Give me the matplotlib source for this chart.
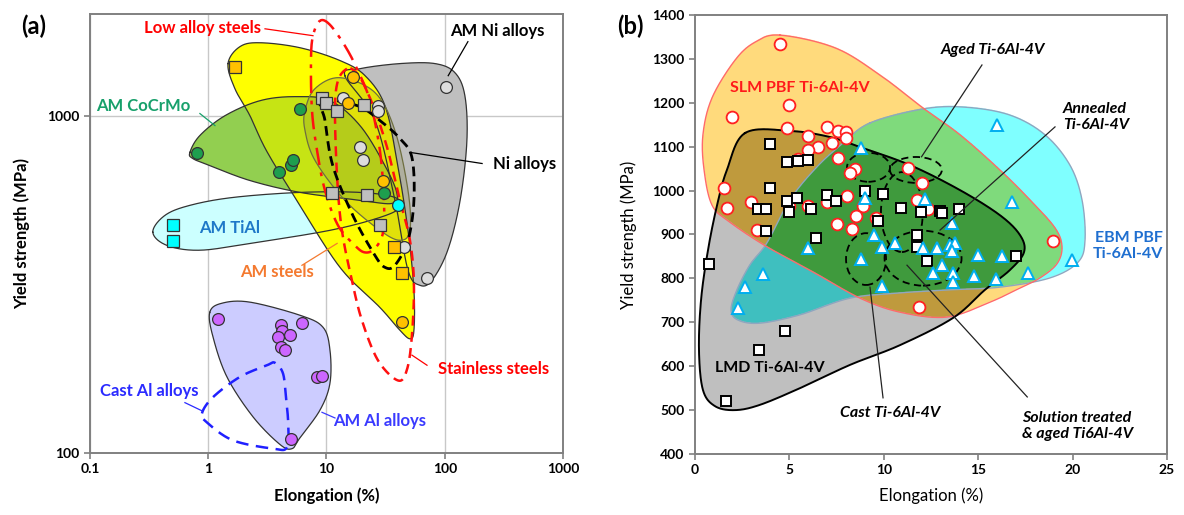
import numpy as np
import matplotlib
matplotlib.use('Agg')
import matplotlib.pyplot as plt
from matplotlib.path import Path
from matplotlib.patches import Ellipse
from matplotlib.ticker import FixedLocator, NullLocator, FixedFormatter

plt.rcParams['font.family'] = ['Lato', 'DejaVu Sans']

# ================= Panel (a) data (elongation %, yield strength MPa) =================
am_steel_sq_x = [1.68, 37.2, 43.5]
am_steel_sq_y = [1396, 407, 341]
am_steel_ci_x = [16.7, 15.2, 30.1, 43.5]
am_steel_ci_y = [1304, 1092, 638, 244]
am_ni_sq_x = [9.16, 9.91, 12.3, 20.7, 11.1, 22.0, 28.3]
am_ni_sq_y = [1130, 1092, 1035, 1078, 588, 580, 473]
am_ni_ci_x = [13.8, 27.3, 27.3, 19.2, 20.4, 45.2, 70.8, 102]
am_ni_ci_y = [1130, 1064, 1035, 809, 736, 407, 329, 1219]
cocrmo_x = [0.80, 3.96, 5.0, 5.21, 5.97, 30.6]
cocrmo_y = [777, 682, 716, 741, 1049, 588]
tial_sq_x = [0.50, 0.50]
tial_sq_y = [473, 424]
tial_ci_x = [40.3]
tial_ci_y = [542]
am_al_x = [1.21, 4.12, 4.20, 3.89, 4.91, 4.12, 4.46, 6.21, 8.31, 9.16, 5.01]
am_al_y = [249, 239, 230, 220, 223, 206, 202, 243, 168, 169, 110]

# envelopes (panel a)
env_steel_x = [1.47, 1.85, 2.74, 5.97, 13.0, 21.2, 31.2, 39.4, 48.9, 54.9, 54.9, 50.8, 41.8, 28.3, 13.0, 5.6, 3.1, 2.25, 1.68]
env_steel_y = [1426, 1600, 1644, 1589, 1456, 1313, 1071, 736, 457, 303, 231, 218, 231, 270, 355, 561, 788, 1000, 1202]
env_ni_x = [14.3, 19.2, 41.8, 82.7, 122, 148, 154, 135, 106, 78, 61.8, 48.9, 37.9, 25.7]
env_ni_y = [1313, 1377, 1426, 1426, 1340, 1146, 843, 561, 399, 325, 314, 348, 561, 967]
env_olive_x = [6.58, 8.0, 13.0, 25.7, 37.9, 48.9, 50.8, 41.8, 28.3, 14.3, 8.0, 6.58]
env_olive_y = [1035, 1202, 1295, 1170, 903, 600, 457, 427, 457, 561, 736, 903]
env_cocr_x = [0.70, 0.85, 1.39, 2.74, 5.42, 10.7, 19.2, 31.2, 39.4, 35.8, 19.2, 5.97, 2.25, 1.03, 0.74]
env_cocr_y = [778, 873, 1000, 1107, 1138, 1107, 934, 711, 588, 549, 561, 592, 642, 711, 746]
env_tial_x = [0.34, 0.43, 0.70, 1.62, 5.97, 19.2, 37.9, 41.8, 28.3, 10.7, 2.25, 0.85, 0.45]
env_tial_y = [451, 506, 542, 572, 592, 592, 572, 534, 499, 457, 418, 399, 412]
env_al_x = [1.03, 1.31, 2.25, 5.97, 9.33, 10.7, 10.7, 8.81, 5.97, 5.11, 4.04, 2.39, 1.44, 1.10]
env_al_y = [261, 278, 280, 256, 236, 202, 161, 134, 111, 103, 106, 128, 168, 220]
env_castal_x = [0.885, 1.10, 1.85, 3.14, 3.67, 4.29, 4.54, 4.74, 4.64, 3.54, 1.62, 0.98]
env_castal_y = [131, 146.5, 168, 182, 185, 172, 146, 123, 104, 103, 109, 123]
env_lowalloy_x = [8.81, 10.7, 14.3, 18.1, 23.3, 28.3, 30.6, 30.1, 25.7, 21.2, 17.4, 12.5, 9.71, 8.32, 7.54, 7.39, 7.69]
env_lowalloy_y = [1910, 1858, 1611, 1377, 1107, 788, 561, 451, 404, 393, 412, 473, 600, 788, 1035, 1456, 1725]
env_stainless_x = [14.9, 12.5, 11.8, 12.3, 13.5, 16.4, 19.95, 27.3, 40.3, 48, 52.8, 54.9, 50.8, 41.8, 33.1, 25.7, 19.95, 17.1]
env_stainless_y = [1377, 1269, 1035, 656, 457, 325, 247, 188, 164, 177, 223, 318, 427, 561, 788, 1035, 1269, 1359]
env_nialloy_x = [9.16, 18.1, 28.3, 41.8, 52.8, 54.9, 48.9, 37.9, 31.2, 25.7, 16.7, 11.3, 9.71]
env_nialloy_y = [1107, 1071, 967, 855, 751, 561, 427, 360, 355, 385, 506, 711, 967]

a_xticks = [0.1, 1, 10, 100, 1000]
a_xlabels = ['0.1', '1', '10', '100', '1000']
a_yticks = [100, 1000]
a_ylabels = ['100', '1000']

# ================= Panel (b) data =================
slm_x = [4.50, 1.96, 4.98, 4.87, 5.99, 6.99, 7.57, 8.0, 8.0, 7.26, 6.51, 5.99, 5.46, 7.57, 8.47, 8.21,
         1.54, 1.69, 2.97, 3.28, 5.99, 4.98, 6.99, 8.05, 8.90, 8.53, 7.52, 8.32, 9.59, 11.28, 12.02,
         11.76, 12.34, 18.96, 11.86]
slm_y = [1334, 1168, 1195, 1143, 1124, 1145, 1136, 1133, 1120, 1108, 1099, 1092, 1072, 1074, 1049, 1040,
         1006, 960, 974, 910, 965, 965, 974, 988, 965, 942, 924, 913, 938, 1051, 1017,
         979, 958, 885, 735]
lmd_x = [3.97, 4.87, 5.46, 5.99, 3.97, 4.87, 5.40, 3.34, 3.76, 4.98, 6.14, 3.76, 6.41, 6.99, 7.47,
         9.00, 9.96, 9.69, 10.91, 11.97, 12.98, 13.08, 13.98, 11.76, 11.76, 12.29, 17.0, 0.74, 4.77,
         3.39, 1.64]
lmd_y = [1106, 1065, 1067, 1070, 1006, 976, 983, 958, 958, 951, 958, 908, 892, 990, 976,
         999, 992, 931, 960, 951, 954, 949, 958, 899, 872, 840, 851, 833, 680,
         637, 521]
ebm_x = [8.79, 9.00, 5.99, 9.48, 9.90, 10.59, 8.79, 9.90, 3.60, 2.65, 2.28, 12.18, 13.61, 12.08, 12.82,
         13.51, 13.77, 13.61, 14.99, 16.26, 13.08, 12.61, 13.67, 13.67, 14.78, 15.94, 17.64, 16.79,
         16.0, 19.97]
ebm_y = [1097, 983, 869, 899, 872, 881, 844, 783, 810, 780, 733, 981, 926, 869, 869,
         876, 881, 862, 853, 851, 831, 812, 812, 792, 805, 799, 812, 974,
         1149, 842]

env_slm_x = [4.50, 7.42, 9.80, 12.08, 14.04, 16.15, 17.74, 19.07, 19.44, 19.17, 18.27, 17.21, 15.63, 13.35,
             10.86, 8.74, 6.36, 3.81, 1.85, 0.90, 0.48, 0.42, 0.90, 2.12, 3.18]
env_slm_y = [1354, 1325, 1263, 1188, 1127, 1047, 979, 915, 872, 833, 801, 778, 746, 712,
             723, 755, 812, 872, 928, 967, 1047, 1127, 1211, 1297, 1338]
env_ebm_x = [9.27, 12.08, 14.30, 16.68, 18.54, 19.86, 20.50, 20.66, 20.29, 18.80, 16.15, 13.51, 10.86,
             8.21, 5.56, 3.44, 2.28, 1.91, 2.22, 2.91, 3.81, 5.03, 6.46, 7.84]
env_ebm_y = [1154, 1186, 1190, 1172, 1127, 1058, 979, 887, 837, 801, 780, 774, 767,
             755, 717, 698, 705, 728, 774, 831, 881, 979, 1054, 1108]
env_lmd_x = [2.65, 5.03, 7.15, 8.74, 11.39, 14.04, 16.15, 17.21, 17.43, 16.68, 15.36, 13.67, 10.86,
             8.21, 5.56, 3.44, 2.12, 1.06, 0.42, 0.21, 0.32, 0.69, 1.17, 1.69]
env_lmd_y = [1131, 1136, 1122, 1099, 1058, 1001, 944, 899, 860, 819, 774, 710, 648,
             603, 550, 512, 500, 509, 546, 637, 751, 865, 967, 1047]

# treatment groups (center x, center y, width, height)
groups = {
    'g1': (9.19, 1053, 2.28, 66),
    'aged': (11.7, 1047, 2.75, 59),
    'annealed': (10.96, 951, 2.22, 182),
    'cast': (9.06, 844, 2.12, 118),
    'sta': (12.08, 846, 4.08, 125),
}


def catmull(xs, ys, logx=False, logy=False, n=30):
    x = np.log10(xs) if logx else np.asarray(xs, float)
    y = np.log10(ys) if logy else np.asarray(ys, float)
    P = np.column_stack([x, y])
    N = len(P)
    t = np.linspace(0, 1, n, endpoint=False)[:, None]
    segs = []
    for i in range(N):
        p0, p1, p2, p3 = P[(i - 1) % N], P[i], P[(i + 1) % N], P[(i + 2) % N]
        seg = 0.5 * (2 * p1 + (-p0 + p2) * t + (2 * p0 - 5 * p1 + 4 * p2 - p3) * t ** 2
                     + (-p0 + 3 * p1 - 3 * p2 + p3) * t ** 3)
        segs.append(seg)
    segs.append(P[:1])
    S = np.vstack(segs)
    sx = 10 ** S[:, 0] if logx else S[:, 0]
    sy = 10 ** S[:, 1] if logy else S[:, 1]
    return sx, sy


fig = plt.figure(figsize=(11.84, 5.15), dpi=100)
axA = fig.add_axes([0.076, 0.1204, 0.3995, 0.8524])
axB = fig.add_axes([0.587, 0.1184, 0.3986, 0.8526])

# ---------------- Panel (a) ----------------
ax = axA
ax.set_xscale('log')
ax.set_yscale('log')
ax.set_xlim(0.1, 1000)
ax.set_ylim(100, 2000)

def lfill(xs, ys, fc, alpha=1.0, z=1):
    sx, sy = catmull(xs, ys, True, True)
    poly = ax.fill(sx, sy, facecolor=fc, alpha=alpha, edgecolor='none', zorder=z)[0]
    return sx, sy, poly

def lline(xs, ys, color, ls, lw=1.0, z=6):
    sx, sy = catmull(xs, ys, True, True)
    ax.plot(sx, sy, color=color, ls=ls, lw=lw, zorder=z)

ni = lfill(env_ni_x, env_ni_y, '#BFBFBF', 1.0, 1)
ti = lfill(env_tial_x, env_tial_y, '#CCFFFF', 1.0, 2)
co = lfill(env_cocr_x, env_cocr_y, '#92CF50', 1.0, 3)
st = lfill(env_steel_x, env_steel_y, '#FFFF00', 1.0, 4)
# overlap tints inside the yellow envelope
lime = ax.fill(co[0], co[1], facecolor='#C6E414', edgecolor='none', zorder=4.1)[0]
lime.set_clip_path(st[2])
ov = lfill(env_olive_x, env_olive_y, '#7A7A30', 0.22, 5)
al = lfill(env_al_x, env_al_y, '#CCCCFF', 1.0, 2)
for i, (sx, sy, _) in enumerate([ni, ti, co, st, ov, al]):
    c = '#6E6E40' if i == 4 else '#333333'
    ax.plot(sx, sy, color=c, lw=0.9, zorder=5.5)

lline(env_lowalloy_x, env_lowalloy_y, '#FF1010', (0, (7, 3, 1.5, 3)), 1.8)
lline(env_stainless_x, env_stainless_y, '#FF1010', (0, (4, 2.5)), 1.8)
lline(env_nialloy_x, env_nialloy_y, 'black', (0, (3.5, 2)), 2.0)
lline(env_castal_x, env_castal_y, '#2020FF', (0, (5, 3)), 1.8)

mk = dict(ls='none', mec='#333333', mew=0.9, zorder=8)
ax.plot(am_ni_sq_x, am_ni_sq_y, marker='s', ms=8, mfc='#BFBFBF', **mk)
ax.plot(am_ni_ci_x, am_ni_ci_y, marker='o', ms=8.5, mfc='#DDDDDD', **mk)
ax.plot(am_steel_sq_x, am_steel_sq_y, marker='s', ms=8, mfc='#FFC000', **mk)
ax.plot(am_steel_ci_x, am_steel_ci_y, marker='o', ms=8.5, mfc='#FFC000', **mk)
ax.plot(cocrmo_x, cocrmo_y, marker='o', ms=8.5, mfc='#1E9E4E', **mk)
ax.plot(tial_sq_x, tial_sq_y, marker='s', ms=8, mfc='#00FFFF', **mk)
ax.plot(tial_ci_x, tial_ci_y, marker='o', ms=8.5, mfc='#00FFFF', **mk)
ax.plot(am_al_x, am_al_y, marker='o', ms=8.5, mfc='#CC66FF', **mk)

def ltext(x, y, s, c, lx=None, ly=None, fs=12):
    ax.text(x, y, s, color=c, fontsize=fs, fontweight='bold', ha='center', va='center', zorder=10)
    if lx is not None:
        ax.plot(lx, ly, color=c, lw=0.9, zorder=9)

ltext(0.90, 1821, 'Low alloy steels', '#FF0000', [3.02, 7.69], [1808, 1725])
ltext(277, 1782, 'AM Ni alloys', 'black', [157, 107], [1656, 1313])
ltext(477, 721, 'Ni alloys', 'black', [207, 50.8], [721, 778])
ltext(0.28, 1071, 'AM CoCrMo', '#17A06B', [0.85, 1.14], [1014, 934])
ltext(1.53, 463, 'AM TiAl', '#1E78C8')
ltext(3.81, 345, 'AM steels', '#F47A30', [6.2, 12.3], [360, 418])
ltext(0.32, 153, 'Cast Al alloys', '#2B2BFF', [0.635, 0.90], [141, 133])
ltext(28.3, 124, 'AM Al alloys', '#3A3AFF', [9.16, 11.8], [132, 127])
ltext(261, 177, 'Stainless steels', '#FF0000', [52.8, 70.8], [195, 182])

ax.xaxis.set_major_locator(FixedLocator(a_xticks))
ax.xaxis.set_major_formatter(FixedFormatter(a_xlabels))
ax.yaxis.set_major_locator(FixedLocator(a_yticks))
ax.yaxis.set_major_formatter(FixedFormatter(a_ylabels))
ax.xaxis.set_minor_locator(NullLocator())
ax.yaxis.set_minor_locator(NullLocator())
ax.grid(True, which='major', color='#C8C8C8', lw=1.0, zorder=0)
ax.set_axisbelow(True)
for sp in ax.spines.values():
    sp.set_color('#808080')
    sp.set_linewidth(1.4)
ax.tick_params(axis='both', colors='#808080', labelcolor='black', labelsize=10, width=1.2, length=4)
for lab in ax.get_xticklabels() + ax.get_yticklabels():
    lab.set_fontweight('bold')
ax.set_xlabel('Elongation (%)', fontsize=12, fontweight='bold')
ax.set_ylabel('Yield strength (MPa)', fontsize=12, fontweight='bold')
ax.xaxis.set_label_coords(0.5, -0.078)
ax.yaxis.set_label_coords(-0.127, 0.5)

# ---------------- Panel (b) ----------------
ax = axB
ax.set_xlim(0, 25)
ax.set_ylim(400, 1400)

W, H = 900, 800
gx = np.linspace(0, 25, W)
gy = np.linspace(400, 1400, H)
GX, GY = np.meshgrid(gx, gy)
pts = np.column_stack([GX.ravel(), GY.ravel()])
img = np.ones((H, W, 3))
shapes = [
    (env_ebm_x, env_ebm_y, (0.50, 1.0, 1.0), '#8FA6C0', 1.0),
    (env_slm_x, env_slm_y, (1.0, 0.855, 0.49), '#FF6A6A', 1.0),
    (env_lmd_x, env_lmd_y, (0.75, 0.75, 0.75), 'black', 1.4),
]
outlines = []
for xs, ys, col, ec, lw in shapes:
    sx, sy = catmull(xs, ys)
    mask = Path(np.column_stack([sx, sy])).contains_points(pts).reshape(H, W)
    img[mask] = np.clip(img[mask] + np.array(col) - 1.0, 0, 1)   # linear-burn overlap
    outlines.append((sx, sy, ec, lw))
ax.imshow(img, extent=(0, 25, 400, 1400), origin='lower', aspect='auto',
          interpolation='bilinear', zorder=0)
for sx, sy, ec, lw in outlines:
    ax.plot(sx, sy, color=ec, lw=lw, zorder=2)

for cx, cy, w, h in groups.values():
    ax.add_patch(Ellipse((cx, cy), w, h, fill=False, ls=(0, (4, 2.5)), lw=1.3,
                         edgecolor='black', zorder=3))

ax.plot(slm_x, slm_y, ls='none', marker='o', ms=8.5, mfc='white', mec='#FF2020', mew=1.3, zorder=5)
ax.plot(lmd_x, lmd_y, ls='none', marker='s', ms=7, mfc='white', mec='black', mew=1.4, zorder=6)
ax.plot(ebm_x, ebm_y, ls='none', marker='^', ms=8.5, mfc='white', mec='#00AEEF', mew=1.4, zorder=7)

ax.text(5.56, 1234, 'SLM PBF Ti-6Al-4V', color='#FF1A1A', fontsize=11.5, fontweight='bold',
        ha='center', va='center', zorder=10)
ax.text(15.78, 1320, 'Aged Ti-6Al-4V', fontsize=11.5, fontweight='bold', style='italic',
        ha='center', va='center', zorder=10)
ax.text(19.5, 1168, 'Annealed\nTi-6Al-4V', fontsize=11.5, fontweight='bold', style='italic',
        ha='left', va='center', linespacing=1.2, zorder=10)
ax.text(24.8, 874, 'EBM PBF\nTi-6Al-4V', fontsize=11.5, fontweight='bold', color='#1F6FD0',
        ha='right', va='center', multialignment='right', linespacing=1.15, zorder=10)
ax.text(3.97, 596, 'LMD Ti-6Al-4V', fontsize=11.5, fontweight='bold', ha='center', va='center', zorder=10)
ax.text(10.33, 493, 'Cast Ti-6Al-4V', fontsize=11.5, fontweight='bold', style='italic',
        ha='center', va='center', zorder=10)
ax.text(17.3, 464, 'Solution treated\n& aged Ti6Al-4V', fontsize=11.5, fontweight='bold', style='italic',
        ha='left', va='center', linespacing=1.2, zorder=10)
for (x0, y0), (x1, y1) in [((15.2, 1286), (12.0, 1077)), ((19.07, 1145), (12.98, 910)),
                           ((9.96, 528), (9.27, 780)), ((17.6, 530), (11.23, 830))]:
    ax.plot([x0, x1], [y0, y1], color='#222222', lw=0.9, zorder=9)

ax.set_xticks(np.arange(0, 26, 5))
ax.set_yticks(np.arange(400, 1401, 100))
for sp in ax.spines.values():
    sp.set_color('#808080')
    sp.set_linewidth(1.4)
ax.tick_params(axis='both', colors='#808080', labelcolor='black', labelsize=10, width=1.2,
               length=4, direction='out')
for lab in ax.get_xticklabels() + ax.get_yticklabels():
    lab.set_fontweight('bold')
ax.set_xlabel('Elongation (%)', fontsize=12)
ax.set_ylabel('Yield strength (MPa)', fontsize=12)
ax.xaxis.set_label_coords(0.5, -0.075)
ax.yaxis.set_label_coords(-0.123, 0.5)

fig.text(0.028, 0.948, '(a)', fontsize=17, fontweight='bold', ha='center', va='center')
fig.text(0.532, 0.948, '(b)', fontsize=17, fontweight='bold', ha='center', va='center')

fig.savefig('out.png', dpi=100)
